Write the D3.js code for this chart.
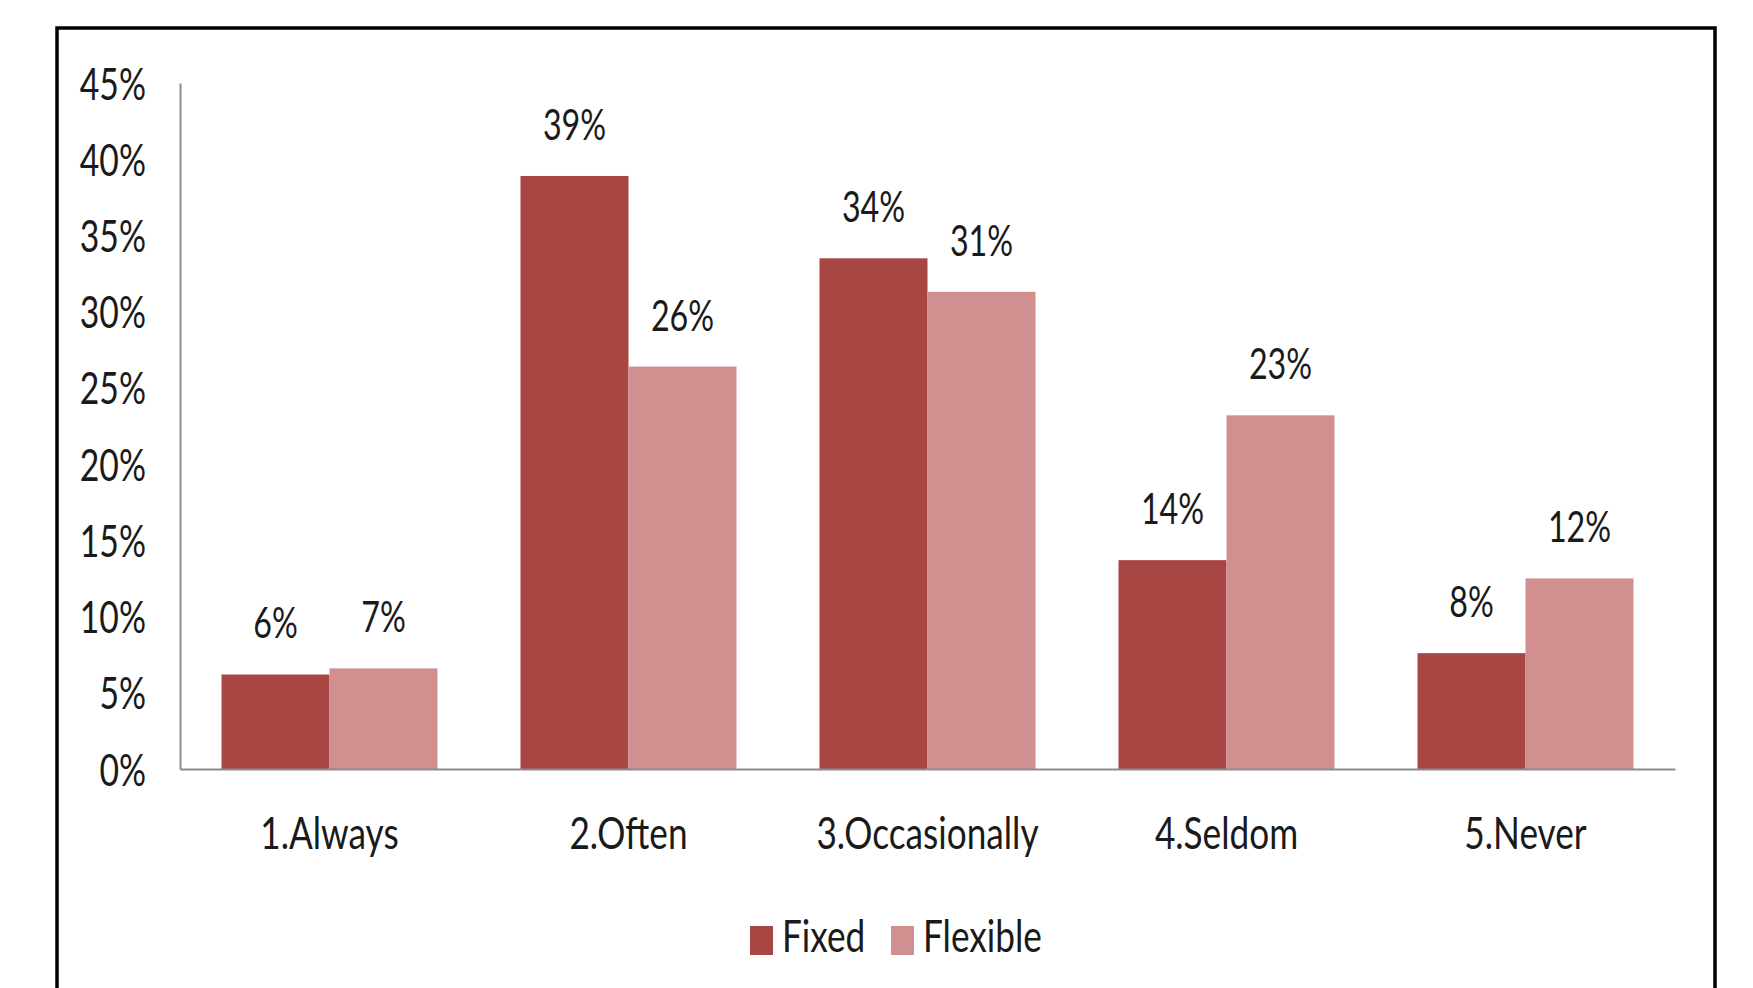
<!DOCTYPE html>
<html>
<head>
<meta charset="utf-8">
<script src="https://cdn.jsdelivr.net/npm/d3@7"></script>
<style>
  body { margin: 0; background: #fff; }
  svg { display: block; }
  text { font-family: Lato, "Open Sans", sans-serif; fill: #1a1a1a; }
</style>
</head>
<body>
<div id="chart"></div>
<script>
// chart data
var categories = ["1.Always", "2.Often", "3.Occasionally", "4.Seldom", "5.Never"];
var seriesNames = ["Fixed", "Flexible"];
var fixedValues = [0.062, 0.389, 0.335, 0.137, 0.076];
var flexibleValues = [0.066, 0.264, 0.313, 0.232, 0.125];
var valueLabels = [["6%", "7%"], ["39%", "26%"], ["34%", "31%"], ["14%", "23%"], ["8%", "12%"]];
var yTicks = [0, 0.05, 0.10, 0.15, 0.20, 0.25, 0.30, 0.35, 0.40, 0.45];

var colors = ["#a84643", "#d18f8f"];

var svgWidth = 1753;
var svgHeight = 988;

// plot area in page pixels
var plot = { left: 180, right: 1675, top: 83, bottom: 769 };

// the original text looks horizontally squeezed
var SX_NUM = 0.75;
var SX_WORD = 0.8;

var svg = d3.select("#chart")
    .append("svg")
    .attr("width", svgWidth)
    .attr("height", svgHeight);

// outer frame (bottom edge runs off the picture)
svg.append("rect")
    .attr("x", 57)
    .attr("y", 28)
    .attr("width", 1658)
    .attr("height", 1100)
    .attr("fill", "none")
    .attr("stroke", "#000")
    .attr("stroke-width", 3.5);

var x0 = d3.scaleBand()
    .domain(categories)
    .range([plot.left, plot.right])
    .paddingInner(0.2776)
    .paddingOuter(0.1388);

var x1 = d3.scaleBand()
    .domain(seriesNames)
    .range([0, x0.bandwidth()]);

var y = d3.scaleLinear()
    .domain([0, 0.45])
    .range([plot.bottom, plot.top]);

var rows = categories.map(function(c, i) {
    return { cat: c, vals: [fixedValues[i], flexibleValues[i]], labels: valueLabels[i] };
});

// bars
var groups = svg.append("g")
    .selectAll("g")
    .data(rows)
    .enter()
    .append("g")
    .attr("transform", d => `translate(${x0(d.cat)}, 0)`);

groups.selectAll("rect")
    .data(d => d.vals.map((v, j) => ({ v: v, name: seriesNames[j], j: j, label: d.labels[j] })))
    .enter()
    .append("rect")
    .attr("x", d => x1(d.name))
    .attr("y", d => y(d.v))
    .attr("width", x1.bandwidth())
    .attr("height", d => y(0) - y(d.v))
    .attr("fill", d => colors[d.j]);

// value labels above bars
groups.selectAll("text")
    .data(d => d.vals.map((v, j) => ({ v: v, name: seriesNames[j], j: j, label: d.labels[j] })))
    .enter()
    .append("text")
    .attr("text-anchor", "middle")
    .attr("font-size", 43)
    .attr("transform", d => `translate(${x1(d.name) + x1.bandwidth() / 2}, ${y(d.v) - 36}) scale(${SX_NUM}, 1)`)
    .text(d => d.label);

// y axis
var yAxis = d3.axisLeft(y)
    .tickValues(yTicks)
    .tickSize(0)
    .tickPadding(0)
    .tickFormat(d3.format(".0%"));

var yAxisG = svg.append("g")
    .attr("transform", `translate(${plot.left}, 0)`)
    .call(yAxis);

yAxisG.select(".domain")
    .attr("stroke", "#8c8c8c")
    .attr("stroke-width", 2);

yAxisG.selectAll(".tick text")
    .attr("x", null)
    .attr("dy", null)
    .attr("text-anchor", "end")
    .attr("font-size", 45)
    .attr("font-family", null)
    .attr("fill", "#1a1a1a")
    .attr("transform", `translate(-34, 16) scale(${SX_NUM}, 1)`);

// x axis
var xAxis = d3.axisBottom(x0)
    .tickSize(0)
    .tickPadding(0);

var xAxisG = svg.append("g")
    .attr("transform", `translate(0, ${plot.bottom})`)
    .call(xAxis);

xAxisG.select(".domain")
    .attr("stroke", "#8c8c8c")
    .attr("stroke-width", 2);

xAxisG.selectAll(".tick text")
    .attr("y", null)
    .attr("dy", null)
    .attr("font-size", 44)
    .attr("font-family", null)
    .attr("fill", "#1a1a1a")
    .attr("transform", `translate(0, 80) scale(${SX_WORD}, 1)`);

// legend
var legendItems = [
    { name: seriesNames[0], color: colors[0], x: 750 },
    { name: seriesNames[1], color: colors[1], x: 891 }
];

var legend = svg.append("g")
    .selectAll("g")
    .data(legendItems)
    .enter()
    .append("g")
    .attr("transform", d => `translate(${d.x}, 926)`);

legend.append("rect")
    .attr("width", 23)
    .attr("height", 29)
    .attr("fill", d => d.color);

legend.append("text")
    .attr("font-size", 44)
    .attr("transform", `translate(32, 26) scale(${SX_WORD}, 1)`)
    .text(d => d.name);
</script>
</body>
</html>
